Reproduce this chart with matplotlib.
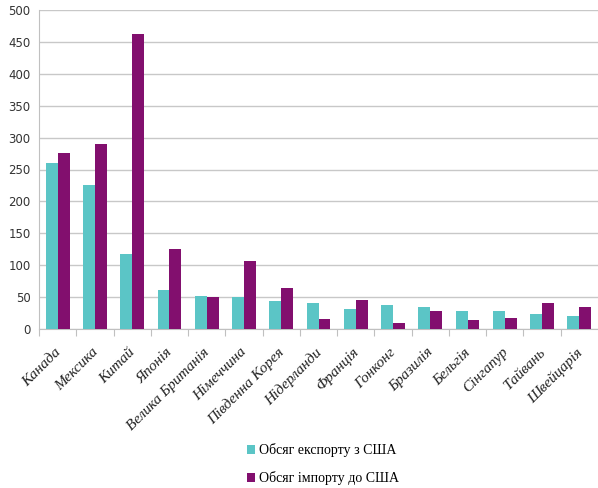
import numpy as np
import matplotlib.pyplot as plt

countries = ["Канада", "Мексика", "Китай", "Японія", "Велика Британія", "Німеччина",
             "Південна Корея", "Нідерланди", "Франція", "Гонконг", "Бразилія",
             "Бельгія", "Сінгапур", "Тайвань", "Швейцарія"]
export_usa = [260, 225, 117, 61, 52, 50, 44, 40, 32, 38, 34, 28, 28, 24, 20]
import_usa = [276, 290, 462, 125, 50, 107, 65, 16, 46, 9, 28, 14, 18, 40, 34]

fig = plt.figure(figsize=(5.98, 4.88), dpi=100)
ax = fig.add_axes([39/598, 159/488, 559/598, 319/488])

x = np.arange(len(countries))
w = 0.32
ax.bar(x - w/2, export_usa, w, color='#5BC5C6', label='Обсяг експорту з США', zorder=3)
ax.bar(x + w/2, import_usa, w, color='#820F6E', label='Обсяг імпорту до США', zorder=3)

ax.set_xlim(-0.5, len(countries) - 0.5)
ax.set_ylim(0, 500)
ax.set_yticks(range(0, 501, 50))
ax.yaxis.grid(True, color='#c8c8c8', linewidth=1, zorder=0)
ax.tick_params(axis='y', length=0, labelsize=8.5, labelcolor='#333333', pad=6)

# категорії - підписи між засічками
ax.set_xticks(x - 0.5, minor=False)
ax.set_xticklabels([])
ax.set_xticks(x - 0.1, minor=True)
ax.set_xticklabels(countries, minor=True, rotation=45, ha='right', rotation_mode='anchor',
                   family='Liberation Serif', style='italic', fontsize=11, color='#222222')
ax.tick_params(axis='x', which='major', length=5, color='#c0c0c0', direction='out')
ax.tick_params(axis='x', which='minor', length=0, pad=12)

for s in ['top', 'right']:
    ax.spines[s].set_visible(False)
ax.spines['left'].set_color('#c0c0c0')
ax.spines['bottom'].set_color('#c0c0c0')

fig.legend(loc='lower center', bbox_to_anchor=(0.54, -0.02), ncol=1, frameon=False,
           prop={'family': 'Liberation Serif', 'size': 10}, handlelength=0.6,
           handleheight=0.6, handletextpad=0.3, labelspacing=1.0)

plt.savefig("out.png", dpi=100)
